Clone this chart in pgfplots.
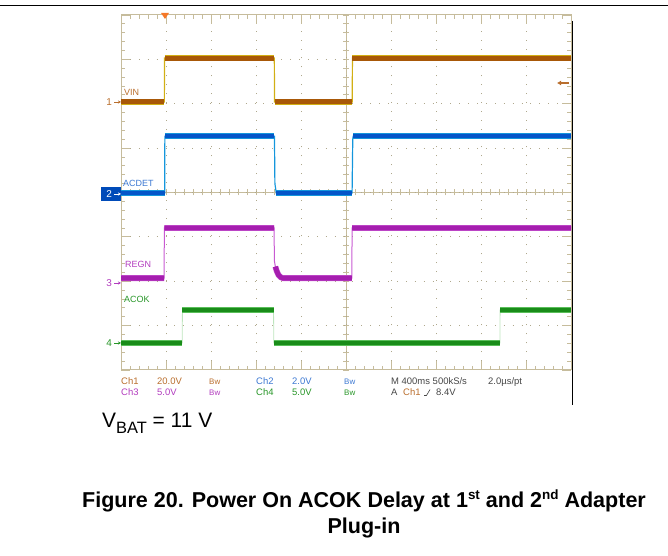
\documentclass[border=0pt]{standalone}
\usepackage{fontspec}
\setmainfont{Liberation Sans}
\usepackage{pgfplots}
\usepackage{pgfplotstable}
\pgfplotsset{compat=1.18}
\usetikzlibrary{arrows.meta}

\definecolor{scopeframe}{RGB}{198,188,156}
\definecolor{scopedot}{RGB}{175,168,140}
\definecolor{vinc}{RGB}{168,88,8}
\definecolor{vinedge}{RGB}{210,175,20}
\definecolor{acdetc}{RGB}{5,85,200}
\definecolor{acdetedge}{RGB}{20,150,220}
\definecolor{regnc}{RGB}{165,30,175}
\definecolor{regnedge}{RGB}{200,90,210}
\definecolor{acokc}{RGB}{25,140,25}
\definecolor{acokedge}{RGB}{90,190,90}
\definecolor{lbl1}{RGB}{185,110,45}
\definecolor{lbl2}{RGB}{60,120,210}
\definecolor{lbl3}{RGB}{178,60,190}
\definecolor{lbl4}{RGB}{40,150,40}
\definecolor{lblgray}{RGB}{70,70,70}
\definecolor{trig}{RGB}{245,120,40}
\definecolor{marker2}{RGB}{0,75,185}

% traces, in screen divisions (x: 0..10, y: 0..8)
\pgfplotstableread{
x y
0 6.04
0.963 6.04
0.968 7.03
3.407 7.03
3.412 6.04
5.138 6.04
5.143 7.03
10 7.03
}\vinfull
\pgfplotstableread{
x y
0 6.04
0.963 6.04
0.965 nan
0.968 7.03
3.407 7.03
3.41 nan
3.412 6.04
5.138 6.04
5.14 nan
5.143 7.03
10 7.03
}\vinlev

\pgfplotstableread{
x y
0 3.99
0.97 3.99
0.975 5.27
3.41 5.27
3.42 4.2
3.45 3.99
5.135 3.99
5.15 5.2
5.16 5.27
10 5.27
}\acdetfull
\pgfplotstableread{
x y
0 3.99
0.97 3.99
0.972 nan
0.975 5.27
3.41 5.27
3.415 nan
3.45 3.99
5.135 3.99
5.14 nan
5.16 5.27
10 5.27
}\acdetlev

\pgfplotstableread{
x y
0 2.07
0.958 2.07
0.963 3.20
3.40 3.20
3.41 2.45
3.43 2.33
3.46 2.23
3.50 2.14
3.55 2.09
3.60 2.07
5.13 2.07
5.135 3.20
10 3.20
}\regnfull
\pgfplotstableread{
x y
0 2.07
0.958 2.07
0.96 nan
0.963 3.20
3.40 3.20
3.405 nan
3.43 2.33
3.46 2.23
3.50 2.14
3.55 2.09
3.60 2.07
5.13 2.07
5.132 nan
5.135 3.20
10 3.20
}\regnlev

\pgfplotstableread{
x y
0 0.61
1.36 0.61
1.365 1.35
3.39 1.35
3.395 0.61
8.42 0.61
8.425 1.35
10 1.35
}\acokfull
\pgfplotstableread{
x y
0 0.61
1.36 0.61
1.362 nan
1.365 1.35
3.39 1.35
3.392 nan
3.395 0.61
8.42 0.61
8.422 nan
8.425 1.35
10 1.35
}\acoklev

\begin{document}
\begin{tikzpicture}[x=1bp,y=1bp]
\path[use as bounding box] (0,0) rectangle (668,556);
\draw[line width=1bp] (0,550) -- (668,550);

% center cross of the screen with its small marks
\draw[scopeframe, line width=1bp] (121,363.5) -- (571,363.5);
\draw[scopeframe, line width=1bp] (346,186) -- (346,541);
\foreach \k in {0,...,50} \draw[scopeframe, line width=0.8bp] ({121+9*\k},360.5) -- ++(0,6);
\foreach \k in {0,...,40} \draw[scopeframe, line width=0.8bp] (343,{186+8.875*\k}) -- ++(6,0);

\begin{axis}[
  at={(121bp,186bp)}, anchor=south west,
  width=450bp, height=355bp, scale only axis,
  xmin=0, xmax=10, ymin=0, ymax=8,
  xtick={0,...,10}, ytick={0,...,8},
  minor x tick num=4, minor y tick num=4,
  xticklabels={}, yticklabels={},
  tick align=inside,
  major tick length=9bp, minor tick length=4bp,
  tick style={draw=scopeframe, line width=0.8bp},
  minor tick style={draw=scopeframe, line width=0.8bp},
  axis line style={draw=scopeframe, line width=1bp},
  grid=major,
  major grid style={draw=scopedot, line width=1bp, dash pattern=on 1bp off 7.9bp},
]
% VIN
\addplot[vinedge, line width=1.2bp] table {\vinfull};
\addplot[vinedge, line width=6.4bp, unbounded coords=jump] table {\vinlev};
\addplot[vinc, line width=5bp, unbounded coords=jump] table {\vinlev};
% ACDET
\addplot[acdetedge, line width=1.2bp] table {\acdetfull};
\addplot[acdetedge, line width=6bp, unbounded coords=jump] table {\acdetlev};
\addplot[acdetc, line width=4.6bp, unbounded coords=jump] table {\acdetlev};
% REGN
\addplot[regnedge, line width=1bp] table {\regnfull};
\addplot[regnedge, line width=5.8bp, unbounded coords=jump] table {\regnlev};
\addplot[regnc, line width=4.8bp, unbounded coords=jump] table {\regnlev};
% ACOK
\addplot[acokedge!40, line width=0.8bp] table {\acokfull};
\addplot[acokedge, line width=5.8bp, unbounded coords=jump] table {\acoklev};
\addplot[acokc, line width=4.6bp, unbounded coords=jump] table {\acoklev};
\end{axis}

\draw[line width=1bp] (572,535) -- (572,151);

% trigger position and level
\fill[trig] (161,543) -- (169,543) -- (165,537) -- cycle;
\draw[lbl1, line width=1.6bp, -{Latex[length=4bp,width=5bp]}] (569,473) -- (557,473);

% channel names on the traces
\begin{scope}[every node/.style={inner sep=0pt, anchor=base west, font=\fontsize{9}{10}\selectfont}]
\node[text=lbl1] at (124,460) {VIN};
\node[text=lbl2] at (123,369) {ACDET};
\node[text=lbl3] at (125,288) {REGN};
\node[text=lbl4] at (124,253) {ACOK};
\end{scope}

% ground markers
\begin{scope}[every node/.style={inner sep=0pt, anchor=east, font=\fontsize{10}{11}\selectfont}]
\node[text=lbl1] at (112,454) {1};
\draw[lbl1, line width=0.8bp, -{Stealth[length=3bp,width=3bp]}] (114,454) -- (121,454);
\fill[marker2] (101,355) rectangle (121,369);
\node[text=white] at (112,362) {2};
\draw[white, line width=0.8bp, -{Stealth[length=3bp,width=3bp]}] (114,362) -- (121,362);
\node[text=lbl3] at (112,273) {3};
\draw[lbl3, line width=0.8bp, -{Stealth[length=3bp,width=3bp]}] (114,273) -- (121,273);
\node[text=lbl4] at (112,213) {4};
\draw[lbl4, line width=0.8bp, -{Stealth[length=3bp,width=3bp]}] (114,213) -- (121,213);
\end{scope}

% scope settings read-out
\begin{scope}[every node/.style={inner sep=0pt, anchor=base west, font=\fontsize{9.5}{10}\selectfont}]
\node[text=lbl1] at (121,171) {Ch1};
\node[text=lbl1] at (157,171) {20.0V};
\node[text=lbl1] at (209,171) {\fontsize{8}{8}\selectfont Bw};
\node[text=lbl2] at (256,171) {Ch2};
\node[text=lbl2] at (292,171) {2.0V};
\node[text=lbl2] at (344,171) {\fontsize{8}{8}\selectfont Bw};
\node[text=lblgray] at (391,171) {M 400ms 500kS/s};
\node[text=lblgray] at (488,171) {2.0µs/pt};
\node[text=lbl3] at (121,160) {Ch3};
\node[text=lbl3] at (157,160) {5.0V};
\node[text=lbl3] at (209,160) {\fontsize{8}{8}\selectfont Bw};
\node[text=lbl4] at (256,160) {Ch4};
\node[text=lbl4] at (292,160) {5.0V};
\node[text=lbl4] at (344,160) {\fontsize{8}{8}\selectfont Bw};
\node[text=lblgray] at (391,160) {A};
\node[text=lbl1] at (403,160) {Ch1};
\node[text=lblgray] at (436,160) {8.4V};
\end{scope}
\draw[lblgray, line width=0.6bp] (424,160.5) -- (426.5,160.5) -- (430,166.5);

% condition and caption
\node[inner sep=0pt, anchor=base west] at (102,128)
  {\fontsize{21}{25}\selectfont V\raisebox{-6bp}{\fontsize{16.5}{17}\selectfont BAT} = 11 V};
\node[inner sep=0pt, anchor=base] at (364,48)
  {\fontsize{21.6}{26}\selectfont\bfseries Figure 20. Power On ACOK Delay at 1\raisebox{8.5bp}{\fontsize{13.5}{14}\selectfont st} and 2\raisebox{8.5bp}{\fontsize{13.5}{14}\selectfont nd} Adapter};
\node[inner sep=0pt, anchor=base] at (364,22)
  {\fontsize{21.6}{26}\selectfont\bfseries Plug-in};
\end{tikzpicture}
\end{document}
